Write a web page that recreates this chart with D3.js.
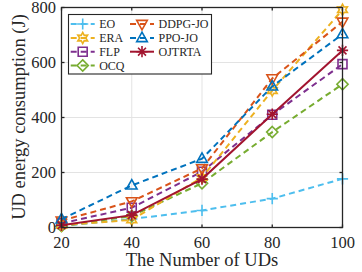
<!DOCTYPE html>
<html><head><meta charset="utf-8">
<script src="https://cdn.jsdelivr.net/npm/d3@7"></script>
<style>body{margin:0;background:#fff}svg{display:block}</style>
</head><body>
<script>
const xValues = [20, 40, 60, 80, 100];
const xTicks = [20, 40, 60, 80, 100];
const yTicks = [0, 200, 400, 600, 800];
const seriesNames = ["EO", "ERA", "FLP", "OCQ", "DDPG-JO", "PPO-JO", "OJTRTA"];
const EO = [5, 31, 62, 105, 177];
const ERA = [8, 28, 182, 498, 792];
const FLP = [15, 72, 203, 410, 594];
const OCQ = [5, 42, 161, 347, 521];
const DDPG_JO = [25, 95, 215, 542, 748];
const PPO_JO = [30, 153, 250, 513, 703];
const OJTRTA = [8, 45, 176, 412, 644];

const values = [EO, ERA, FLP, OCQ, DDPG_JO, PPO_JO, OJTRTA];
const colors = ["#4DBEEE", "#EDB120", "#7E2F8E", "#77AC30", "#D95319", "#0072BD", "#A2142F"];
const markers = ["plus", "hex", "square", "diamond", "tridown", "triup", "star"];
const dashed = [true, true, true, true, true, true, false];
const drawOrder = [0, 3, 2, 1, 4, 5, 6];

const W = 362, H = 272;
const m = {l: 61.5, r: 19.5, t: 7.5, b: 44.5};
const svg = d3.select("body").append("svg").attr("width", W).attr("height", H);
const x = d3.scaleLinear().domain([20, 100]).range([m.l, W - m.r]);
const y = d3.scaleLinear().domain([0, 800]).range([H - m.b, m.t]);
const font = "'Liberation Serif','Times New Roman',serif";

// grid
const g = svg.append("g");
g.selectAll(".gx").data(xTicks).join("line")
  .attr("x1", d => x(d)).attr("x2", d => x(d)).attr("y1", y(0)).attr("y2", y(800))
  .attr("stroke", "#e3e3e3").attr("stroke-width", 1);
g.selectAll(".gy").data(yTicks).join("line")
  .attr("y1", d => y(d)).attr("y2", d => y(d)).attr("x1", x(20)).attr("x2", x(100))
  .attr("stroke", "#e3e3e3").attr("stroke-width", 1);

function markerPath(type, s) {
  switch (type) {
    case "plus": return `M${-s},0H${s}M0,${-s}V${s}`;
    case "square": return `M${-s*0.8},${-s*0.8}H${s*0.8}V${s*0.8}H${-s*0.8}Z`;
    case "diamond": return `M0,${-s}L${s},0L0,${s}L${-s},0Z`;
    case "triup": return `M0,${-s*1.05}L${s*0.95},${s*0.65}L${-s*0.95},${s*0.65}Z`;
    case "tridown": return `M0,${s*1.05}L${s*0.95},${-s*0.65}L${-s*0.95},${-s*0.65}Z`;
    case "hex": {
      let p = [];
      for (let i = 0; i < 12; i++) {
        const r = i % 2 === 0 ? s : s * 0.55;
        const a = -Math.PI / 2 + i * Math.PI / 6;
        p.push([r * Math.cos(a), r * Math.sin(a)]);
      }
      return "M" + p.map(q => q[0].toFixed(2) + "," + q[1].toFixed(2)).join("L") + "Z";
    }
    case "star": {
      let d = "";
      for (let i = 0; i < 4; i++) {
        const a = i * Math.PI / 4;
        d += `M${(-s*Math.cos(a)).toFixed(2)},${(-s*Math.sin(a)).toFixed(2)}L${(s*Math.cos(a)).toFixed(2)},${(s*Math.sin(a)).toFixed(2)}`;
      }
      return d;
    }
  }
}

const line = d3.line().x((d, i) => x(xValues[i])).y(d => y(d));
const plot = svg.append("g");
drawOrder.forEach(k => {
  plot.append("path").attr("d", line(values[k])).attr("fill", "none")
    .attr("stroke", colors[k]).attr("stroke-width", 2)
    .attr("stroke-dasharray", dashed[k] ? "6,4" : null);
  plot.selectAll(null).data(values[k]).join("path")
    .attr("transform", (d, i) => `translate(${x(xValues[i])},${y(d)})`)
    .attr("d", markerPath(markers[k], 5.6)).attr("fill", "none")
    .attr("stroke", colors[k]).attr("stroke-width", 1.6);
});

// frame
svg.append("rect").attr("x", x(20)).attr("y", y(800)).attr("width", x(100) - x(20)).attr("height", y(0) - y(800))
  .attr("fill", "none").attr("stroke", "#262626").attr("stroke-width", 1.3);

// ticks (inward)
const tk = svg.append("g").attr("stroke", "#262626").attr("stroke-width", 1.3);
xTicks.forEach(t => {
  tk.append("line").attr("x1", x(t)).attr("x2", x(t)).attr("y1", y(0)).attr("y2", y(0) - 3);
  tk.append("line").attr("x1", x(t)).attr("x2", x(t)).attr("y1", y(800)).attr("y2", y(800) + 3);
});
yTicks.forEach(t => {
  tk.append("line").attr("y1", y(t)).attr("y2", y(t)).attr("x1", x(20)).attr("x2", x(20) + 3);
  tk.append("line").attr("y1", y(t)).attr("y2", y(t)).attr("x1", x(100)).attr("x2", x(100) - 3);
});

// tick labels
svg.selectAll(".xt").data(xTicks).join("text")
  .attr("x", d => x(d)).attr("y", 248).attr("text-anchor", "middle")
  .attr("font-family", font).attr("font-size", 16.5).attr("fill", "#262626").text(d => d);
svg.selectAll(".yt").data(yTicks).join("text")
  .attr("x", 56).attr("y", d => y(d) + 5.5).attr("text-anchor", "end")
  .attr("font-family", font).attr("font-size", 16.5).attr("fill", "#262626").text(d => d);

// axis labels
svg.append("text").attr("x", x(60)).attr("y", 265.5).attr("text-anchor", "middle")
  .attr("font-family", font).attr("font-size", 18.5).attr("fill", "#262626").text("The Number of UDs");
svg.append("text").attr("transform", `translate(24.5,${117}) rotate(-90)`).attr("text-anchor", "middle")
  .attr("font-family", font).attr("font-size", 18.5).attr("fill", "#262626").text("UD energy consumption (J)");

// legend
const lg = svg.append("g");
lg.append("rect").attr("x", 68.5).attr("y", 14.5).attr("width", 143).attr("height", 59.5)
  .attr("fill", "#fff").attr("stroke", "#262626").attr("stroke-width", 1.1);
const legendPos = [[0,0],[0,1],[0,2],[0,3],[1,0],[1,1],[1,2]];
const colX = [70.7, 130], rowY = [24, 38, 51.7, 65.5];
seriesNames.forEach((name, k) => {
  const cx = colX[legendPos[k][0]], cy = rowY[legendPos[k][1]];
  lg.append("line").attr("x1", cx).attr("x2", cx + 24).attr("y1", cy).attr("y2", cy)
    .attr("stroke", colors[k]).attr("stroke-width", 2)
    .attr("stroke-dasharray", dashed[k] ? "6,4" : null);
  lg.append("path").attr("transform", `translate(${cx + 12},${cy})`)
    .attr("d", markerPath(markers[k], 5.6)).attr("fill", "none")
    .attr("stroke", colors[k]).attr("stroke-width", 1.6);
  lg.append("text").attr("x", cx + 28.5).attr("y", cy + 4).attr("font-family", font)
    .attr("font-size", 12).attr("fill", "#262626").text(name);
});
</script>
</body></html>
